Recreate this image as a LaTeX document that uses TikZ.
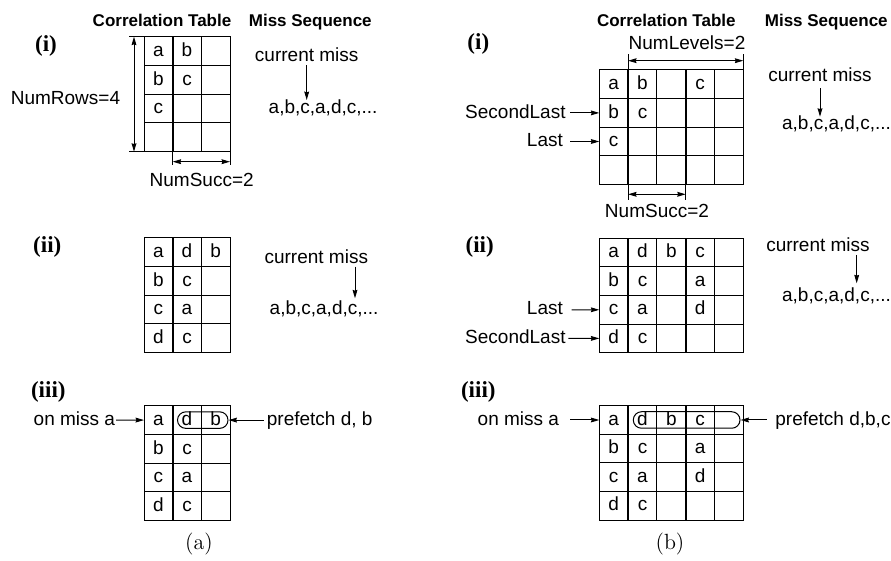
\documentclass[tikz,border=0pt]{standalone}
\usepackage{fontspec}
\newfontfamily\hv{Liberation Sans}
\newfontfamily\tms{Liberation Serif}
\usetikzlibrary{arrows.meta,shapes.misc}
\tikzset{
  lbl/.style={font=\hv\fontsize{9.5}{11}\selectfont, inner sep=0pt, anchor=base},
  hdr/.style={font=\hv\bfseries\fontsize{8.5}{10}\selectfont, inner sep=0pt, anchor=base},
  sublbl/.style={font=\tms\bfseries\fontsize{11.5}{13}\selectfont, inner sep=0pt},
  captn/.style={font=\fontsize{11}{13}\selectfont, inner sep=0pt},
  lett/.style={font=\hv\fontsize{9.5}{11}\selectfont, inner sep=0pt, anchor=base},
  gridl/.style={line width=0.5pt, line cap=rect},
  heavy/.style={line width=1.1pt},
  tipA/.tip={Stealth[length=4.2pt,width=2.4pt,inset=0.4pt]},
  arr/.style={-tipA, line width=0.5pt},
  dimarr/.style={tipA-tipA, line width=0.5pt},
  pill/.style={draw, rounded rectangle, inner sep=0pt, line width=0.5pt, minimum height=8.25pt},
}
\newcommand\ctab[6]{%
  \foreach \r in {0,...,4} \draw[gridl] (#2,{#3+\r*#6}) -- ({#2+#4*#5},{#3+\r*#6});
  \foreach \c in {0,...,#4} \draw[gridl] ({#2+\c*#5},#3) -- ({#2+\c*#5},{#3+4*#6});
  \foreach \r in {1,...,4} \coordinate (#1r\r) at (#2,{#3+(\r-0.5)*#6});
}
\newcommand\cells[6]{%
  \foreach \c/\r/\t in {#6} \node[lett] (#1-\c-\r) at ({#2+(\c-0.5)*#4},{#3+(\r-0.5)*#5+5.2}) {\t};
}
\begin{document}
\begin{tikzpicture}[x=0.5pt,y=-0.5pt]
\useasboundingbox (0,0) rectangle (891,561);

% ---------------- headings
\node[hdr] (hctA) at (162,26.7) {Correlation Table};
\node[hdr] (hmsA) at (310.3,26.7) {Miss Sequence};
\node[hdr] (hctB) at (666.3,26.7) {Correlation Table};
\node[hdr] (hmsB) at (826.3,26.7) {Miss Sequence};

% ---------------- sub labels
\node[sublbl] (sA1) at (46,46.3) {(i)};
\node[sublbl] (sA2) at (47.3,246.5) {(ii)};
\node[sublbl] (sA3) at (48.3,391.5) {(iii)};
\node[sublbl] (sB1) at (478.3,44) {(i)};
\node[sublbl] (sB2) at (479.7,246.7) {(ii)};
\node[sublbl] (sB3) at (478.3,391.7) {(iii)};

% ---------------- tables (a)
\ctab{A1}{144}{36.7}{3}{28.67}{28.75}
\ctab{A2}{144}{237.7}{3}{28.67}{28.75}
\ctab{A3}{144}{405.7}{3}{28.67}{28.75}
\draw[heavy] (172.67,36.7) -- (172.67,151.7);
\draw[heavy] (172.67,237.7) -- (172.67,352.7);
\draw[heavy] (172.67,405.7) -- (172.67,520.7);
\cells{A1}{144}{36.7}{28.67}{28.75}{1/1/a,2/1/b,1/2/b,2/2/c,1/3/c}
\cells{A2}{144}{237.7}{28.67}{28.75}{1/1/a,2/1/d,3/1/b,1/2/b,2/2/c,1/3/c,2/3/a,1/4/d,2/4/c}
\cells{A3}{144}{405.7}{28.67}{28.75}{1/1/a,2/1/d,3/1/b,1/2/b,2/2/c,1/3/c,2/3/a,1/4/d,2/4/c}

% ---------------- tables (b)
\ctab{B1}{599.3}{70}{5}{28.8}{28.6}
\ctab{B2}{599.3}{238.3}{5}{28.8}{28.6}
\ctab{B3}{599.3}{405.7}{5}{28.8}{28.6}
\foreach \yy in {70,238.3,405.7} {
  \draw[heavy] (628.1,\yy) -- (628.1,{\yy+114.4});
  \draw[heavy] (685.7,\yy) -- (685.7,{\yy+114.4});
}
\cells{B1}{599.3}{70}{28.8}{28.6}{1/1/a,2/1/b,4/1/c,1/2/b,2/2/c,1/3/c}
\cells{B2}{599.3}{238.3}{28.8}{28.6}{1/1/a,2/1/d,3/1/b,4/1/c,1/2/b,2/2/c,4/2/a,1/3/c,2/3/a,4/3/d,1/4/d,2/4/c}
\cells{B3}{599.3}{405.7}{28.8}{28.6}{1/1/a,2/1/d,3/1/b,4/1/c,1/2/b,2/2/c,4/2/a,1/3/c,2/3/a,4/3/d,1/4/d,2/4/c}

% ---------------- dimensions (a)(i)
\coordinate (dRt) at (134,36.7);
\coordinate (dRb) at (134,151.7);
\draw[gridl] (129.5,36.7) -- (144,36.7);
\draw[gridl] (129.5,151.7) -- (144,151.7);
\draw[dimarr] (dRt) -- (dRb);
\node[lbl] (nrows) at (65.5,105) {NumRows=4};
\coordinate (dSa) at (172.67,161.7);
\coordinate (dSb) at (230,161.7);
\draw[gridl] (172.67,151.7) -- (172.67,165);
\draw[gridl] (230,151.7) -- (230,165);
\draw[dimarr] (dSa) -- (dSb);
\node[lbl] (nsuccA) at (201.7,186.7) {NumSucc=2};

% ---------------- dimensions (b)(i)
\coordinate (dLa) at (628.1,60.7);
\coordinate (dLb) at (743.3,60.7);
\draw[gridl] (628.1,55) -- (628.1,70);
\draw[gridl] (743.3,55) -- (743.3,70);
\draw[dimarr] (dLa) -- (dLb);
\node[lbl] (nlev) at (687,50) {NumLevels=2};
\coordinate (dTa) at (628.1,194.3);
\coordinate (dTb) at (685.7,194.3);
\draw[gridl] (628.1,184.4) -- (628.1,199.3);
\draw[gridl] (685.7,184.4) -- (685.7,199.3);
\draw[dimarr] (dTa) -- (dTb);
\node[lbl] (nsuccB) at (657,218) {NumSucc=2};

% ---------------- miss sequences
\node[lbl] (cmA1) at (306.7,62) {current miss};
\node[lbl, anchor=base west] (sqA1) at (268.3,113.5) {a,b,c,a,d,c,...};
\coordinate (aA1s) at (306.7,65.5);
\coordinate (aA1e) at (306.7,100);
\draw[arr] (aA1s) -- (aA1e);

\node[lbl] (cmA2) at (316.3,263.3) {current miss};
\node[lbl, anchor=base west] (sqA2) at (269.3,314.5) {a,b,c,a,d,c,...};
\coordinate (aA2s) at (355,266.7);
\coordinate (aA2e) at (355,298.3);
\draw[arr] (aA2s) -- (aA2e);

\node[lbl] (cmB1) at (820,81.7) {current miss};
\node[lbl, anchor=base west] (sqB1) at (781.7,130) {a,b,c,a,d,c,...};
\coordinate (aB1s) at (820,88.3);
\coordinate (aB1e) at (820,116.7);
\draw[arr] (aB1s) -- (aB1e);

\node[lbl] (cmB2) at (818,251.5) {current miss};
\node[lbl, anchor=base west] (sqB2) at (781.7,301.7) {a,b,c,a,d,c,...};
\coordinate (aB2s) at (856.7,255);
\coordinate (aB2e) at (856.7,283.3);
\draw[arr] (aB2s) -- (aB2e);

% ---------------- pointers (b)
\node[lbl, anchor=base east] (slB1) at (566,118.3) {SecondLast};
\coordinate (pB1a) at (570,112.9);
\draw[arr] (pB1a) -- (B1r2);
\node[lbl, anchor=base east] (lB1) at (563.3,146.8) {Last};
\coordinate (pB1b) at (570,141.5);
\draw[arr] (pB1b) -- (B1r3);

\node[lbl, anchor=base east] (lB2) at (563.3,315) {Last};
\coordinate (pB2a) at (571.7,309.8);
\draw[arr] (pB2a) -- (B2r3);
\node[lbl, anchor=base east] (slB2) at (566,343.6) {SecondLast};
\coordinate (pB2b) at (568.3,338.4);
\draw[arr] (pB2b) -- (B2r4);

% ---------------- (iii) prefetch
\node[pill, minimum width=25.25pt] (pillA) at (202.75,420.1) {};
\node[pill, minimum width=53.35pt] (pillB) at (686.65,420) {};

\node[lbl, anchor=base west] (omA) at (33.3,425.3) {on miss a};
\coordinate (oA) at (116,420.1);
\draw[arr] (oA) -- (A3r1);
\node[lbl, anchor=base west] (pfA) at (266.5,425.3) {prefetch d, b};
\coordinate (fA) at (263.5,420.1);
\draw[arr] (fA) -- (pillA.east);

\node[lbl, anchor=base west] (omB) at (477.3,425.3) {on miss a};
\coordinate (oB) at (570,420);
\draw[arr] (oB) -- (B3r1);
\node[lbl, anchor=base west] (pfB) at (775,425.3) {prefetch d,b,c};
\coordinate (fB) at (766.7,420);
\draw[arr] (fB) -- (pillB.east);

% ---------------- captions
\node[captn] (capA) at (199,544) {(a)};
\node[captn] (capB) at (670,544) {(b)};
\end{tikzpicture}
\end{document}
